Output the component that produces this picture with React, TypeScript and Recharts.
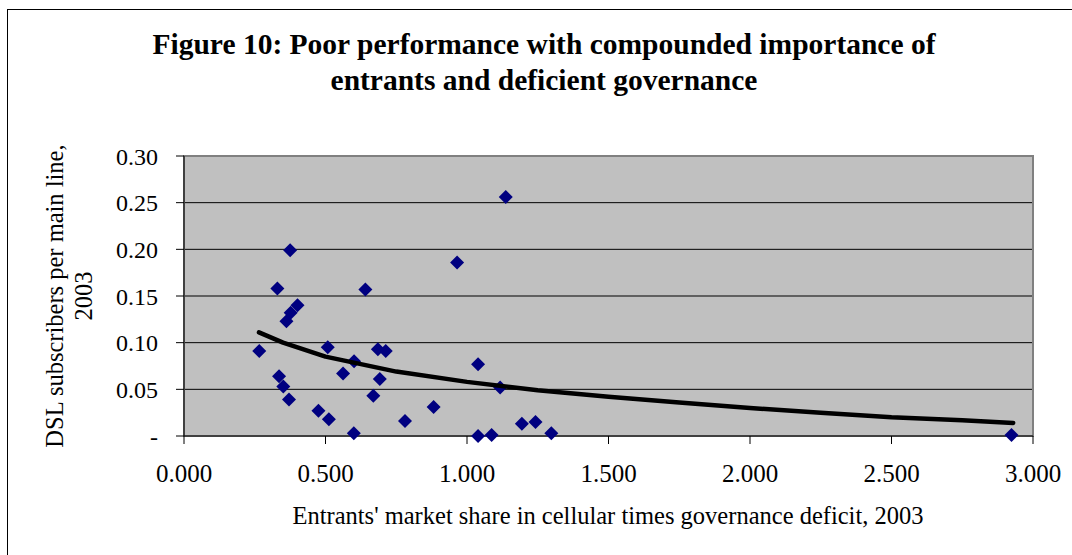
import React from "react";
import { ScatterChart, Scatter, XAxis, YAxis, CartesianGrid, ReferenceArea } from "recharts";

const pointX = [
  0.266, 0.330, 0.375, 0.362, 0.377, 0.401, 0.336, 0.351, 0.371, 0.475, 0.512, 0.508,
  0.600, 0.601, 0.562, 0.641, 0.685, 0.713, 0.692, 0.669, 0.781, 0.882, 0.965, 1.039,
  1.039, 1.087, 1.117, 1.137, 1.194, 1.242, 1.298, 2.924,
];
const pointY = [
  0.091, 0.158, 0.199, 0.123, 0.132, 0.140, 0.064, 0.053, 0.039, 0.027, 0.018, 0.095,
  0.003, 0.080, 0.067, 0.157, 0.093, 0.091, 0.061, 0.043, 0.016, 0.031, 0.186, 0.077,
  0.000, 0.001, 0.052, 0.256, 0.013, 0.015, 0.003, 0.001,
];

// logarithmic trend line
const trendX = [0.265, 0.35, 0.5, 0.75, 1.0, 1.25, 1.5, 1.75, 2.0, 2.25, 2.5, 2.75, 2.93];
const trendY = [0.111, 0.1, 0.085, 0.069, 0.058, 0.049, 0.042, 0.036, 0.03, 0.025, 0.02, 0.017, 0.014];

const xTicks = [0, 0.5, 1, 1.5, 2, 2.5, 3];
const yTicks = [0, 0.05, 0.1, 0.15, 0.2, 0.25, 0.3];

const points = pointX.map((x, i) => ({ x, y: pointY[i] }));
const trend = trendX.map((x, i) => ({ x, y: trendY[i] }));

const serif = "'Liberation Serif', 'Times New Roman', serif";

function Diamond(props: any) {
  const { cx, cy } = props;
  const r = 7;
  return (
    <polygon
      points={`${cx},${cy - r} ${cx + r},${cy} ${cx},${cy + r} ${cx - r},${cy}`}
      fill="#000080"
    />
  );
}

export default function App() {
  return (
    <div style={{ position: "absolute", left: 0, top: 0, width: 1072, height: 555, overflow: "hidden", background: "#fff" }}>
      <div style={{ position: "absolute", left: 7, top: 9, width: 1100, height: 600, border: "1.5px solid #000" }} />
      <div style={{ position: "absolute", left: 0, top: 0 }}>
        <ScatterChart width={1072} height={555} margin={{ top: 156, right: 39, left: 100, bottom: 59 }}>
          <CartesianGrid vertical={false} stroke="#000" fill="#c0c0c0" fillOpacity={1} />
          <ReferenceArea x1={0} x2={3} y1={0} y2={0.3} stroke="#808080" strokeWidth={2} fillOpacity={0} />
          <XAxis
            type="number"
            dataKey="x"
            domain={[0, 3]}
            ticks={xTicks}
            tickFormatter={(v: number) => v.toFixed(3)}
            height={60}
            tickSize={8}
            tickMargin={20}
            stroke="#000"
            tick={{ fill: "#000", fontSize: 25, fontFamily: serif }}
          />
          <YAxis
            type="number"
            dataKey="y"
            domain={[0, 0.3]}
            ticks={yTicks}
            tickFormatter={(v: number) => (v === 0 ? "-" : v.toFixed(2))}
            width={84}
            tickSize={8}
            tickMargin={18}
            stroke="#000"
            tick={{ fill: "#000", fontSize: 24, fontFamily: serif }}
          />
          <Scatter data={points} shape={<Diamond />} isAnimationActive={false} />
          <Scatter
            data={trend}
            shape={() => <g />}
            line={{ stroke: "#000", strokeWidth: 4.5, strokeLinecap: "round", strokeLinejoin: "round" }}
            lineType="joint"
            isAnimationActive={false}
          />
        </ScatterChart>
      </div>
      <svg width={1072} height={555} style={{ position: "absolute", left: 0, top: 0, pointerEvents: "none" }}>
        <g fontFamily={serif} fill="#000">
          <text x={544} y={54} textAnchor="middle" fontSize={29.5} fontWeight="bold">
            Figure 10: Poor performance with compounded importance of
          </text>
          <text x={544} y={90} textAnchor="middle" fontSize={29.5} fontWeight="bold">
            entrants and deficient governance
          </text>
          <text transform="translate(63,296) rotate(-90)" textAnchor="middle" fontSize={24.5}>
            DSL subscribers per main line,
          </text>
          <text transform="translate(92,296) rotate(-90)" textAnchor="middle" fontSize={24.5}>
            2003
          </text>
          <text x={608} y={524} textAnchor="middle" fontSize={24.5}>
            Entrants' market share in cellular times governance deficit, 2003
          </text>
        </g>
      </svg>
    </div>
  );
}
